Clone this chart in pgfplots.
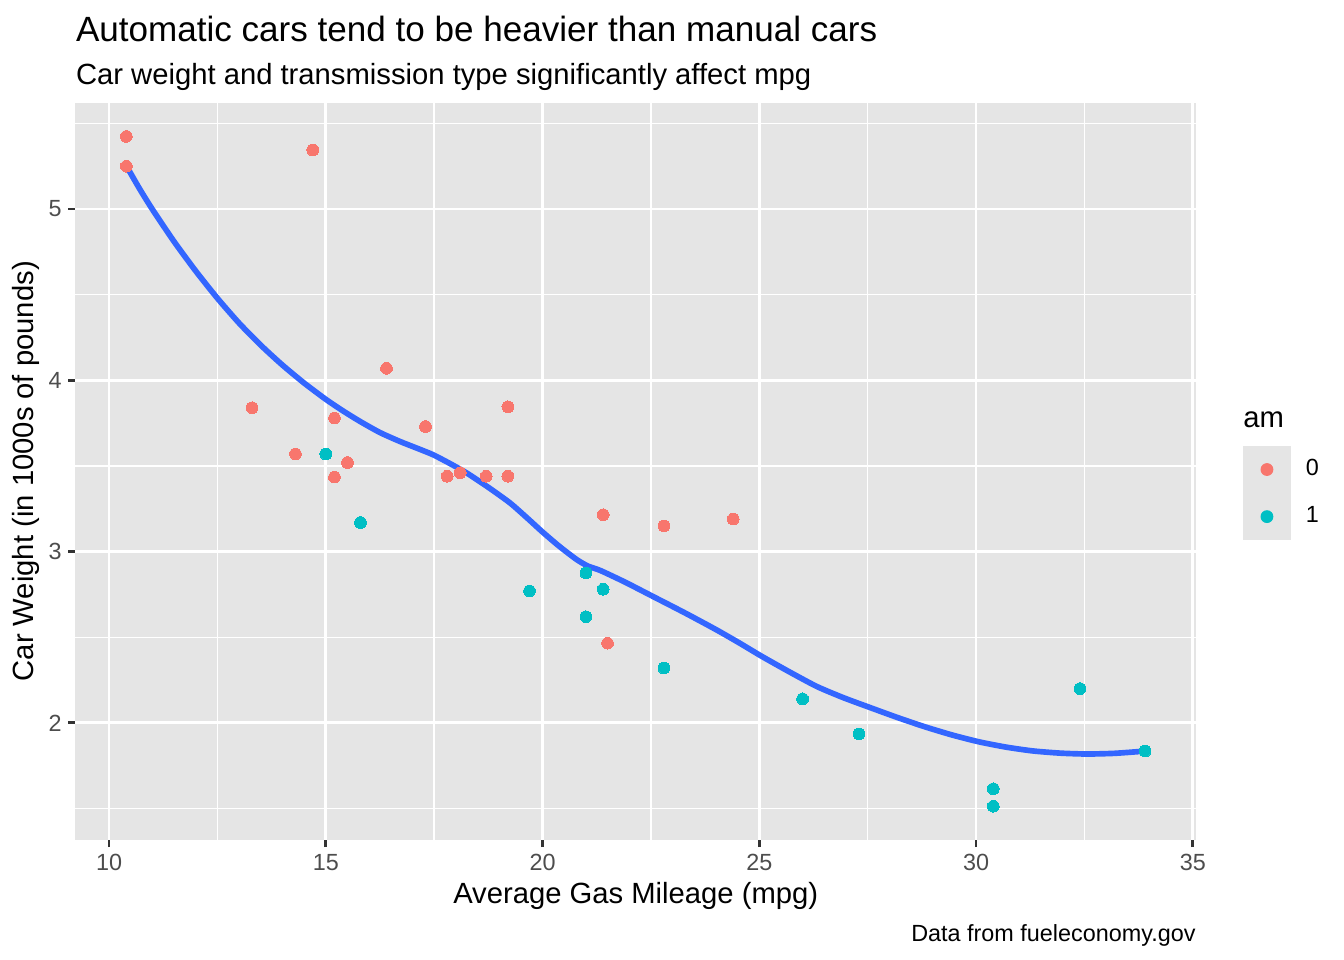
\documentclass[border=0pt]{standalone}
\usepackage{fontspec}
\setmainfont{Liberation Sans}
\usepackage{pgfplots}
\pgfplotsset{compat=1.18}
\usepackage{pgfplotstable}
\definecolor{redpt}{HTML}{F8766D}
\definecolor{tealpt}{HTML}{00BFC4}
\definecolor{smoothc}{HTML}{3366FF}
\definecolor{panelbg}{HTML}{E5E5E5}
\definecolor{grayxxx}{HTML}{4D4D4D}
\definecolor{grayxx}{HTML}{333333}

\pgfplotstableread{
mpg wt
21.4 3.215
18.7 3.440
18.1 3.460
14.3 3.570
24.4 3.190
22.8 3.150
19.2 3.440
17.8 3.440
16.4 4.070
17.3 3.730
15.2 3.780
10.4 5.250
10.4 5.424
14.7 5.345
21.5 2.465
15.5 3.520
15.2 3.435
13.3 3.840
19.2 3.845
}\autodata

\pgfplotstableread{
mpg wt
21.0 2.620
21.0 2.875
22.8 2.320
32.4 2.200
30.4 1.615
33.9 1.835
27.3 1.935
26.0 2.140
30.4 1.513
15.8 3.170
19.7 2.770
15.0 3.570
21.4 2.780
}\manualdata

\pgfplotstableread{
mpg wt
10.40 5.252
10.70 5.120
11.00 4.998
11.50 4.810
12.00 4.638
12.50 4.479
13.00 4.334
13.50 4.205
14.00 4.089
14.50 3.984
15.00 3.889
15.40 3.821
15.79 3.760
16.25 3.695
16.71 3.643
17.10 3.604
17.47 3.566
17.85 3.516
18.25 3.459
18.75 3.375
19.25 3.284
19.65 3.195
20.01 3.112
20.40 3.028
20.79 2.953
21.05 2.915
21.33 2.890
21.90 2.822
22.57 2.735
23.30 2.640
24.02 2.542
24.55 2.465
25.06 2.388
25.70 2.297
26.33 2.212
26.95 2.146
27.58 2.087
28.20 2.030
28.82 1.977
29.45 1.929
30.07 1.889
30.70 1.858
31.31 1.836
31.95 1.823
32.56 1.818
33.20 1.822
33.90 1.835
}\loessdata

\begin{document}
\begin{tikzpicture}
\path[use as bounding box] (0bp,0bp) rectangle (504bp,360bp);
\begin{axis}[
  at={(28.3bp,45.1bp)}, anchor=south west,
  scale only axis, width=420.2bp, height=276.3bp,
  xmin=9.225, xmax=35.075, ymin=1.3175, ymax=5.6196,
  axis background/.style={fill=panelbg},
  axis line style={draw=none},
  tick pos=left, tick align=outside,
  xtick={10,15,20,25,30,35}, ytick={2,3,4,5},
  minor xtick={12.5,17.5,22.5,27.5,32.5},
  minor ytick={1.5,2.5,3.5,4.5,5.5},
  grid=both,
  major grid style={white, line width=1.07pt},
  minor grid style={white, line width=0.53pt},
  major tick length=2.75pt, minor tick length=0pt,
  major tick style={grayxx, line width=1.07pt},
  tick label style={font=\fontsize{8.8}{10}\selectfont, text=grayxxx, inner sep=0pt},
  xticklabel style={anchor=north, yshift=-2.5bp},
  yticklabel style={anchor=east, xshift=-2.25bp},
  /pgf/number format/assume math mode=true,
  legend style={at={(1.0419,0.5344)}, anchor=north west, draw=none, fill=none,
    inner sep=0pt, outer sep=0pt, row sep=0pt, column sep=5.6bp,
    nodes={inner sep=0pt, outer sep=0pt},
    font=\fontsize{8.8}{10}\selectfont},
  legend cell align=left,
]
\addplot[redpt, only marks, mark=*, mark size=2.2bp, mark options={draw=redpt, fill=redpt, line width=0pt},
  legend image code/.code={\fill[panelbg] (0bp,-8.63bp) rectangle (17.6bp,8.63bp);
    \fill[redpt] (8.8bp,0bp) circle (2.2bp);}]
  table[x=mpg, y=wt] {\autodata};
\addlegendentry{0}
\addplot[tealpt, only marks, mark=*, mark size=2.2bp, mark options={draw=tealpt, fill=tealpt, line width=0pt},
  legend image code/.code={\fill[panelbg] (0bp,-8.63bp) rectangle (17.6bp,8.63bp);
    \fill[tealpt] (8.8bp,0bp) circle (2.2bp);}]
  table[x=mpg, y=wt] {\manualdata};
\addlegendentry{1}
\addplot[forget plot, no marks, smoothc, line width=2.13pt, line join=round, smooth, tension=0.4]
  table[x=mpg, y=wt] {\loessdata};
\end{axis}
\node[anchor=base west, inner sep=0pt, font=\fontsize{13.2}{15}\selectfont] at (28.3bp,344.6bp)
  {Automatic cars tend to be heavier than manual cars};
\node[anchor=base west, inner sep=0pt, font=\fontsize{11}{13}\selectfont] at (28.3bp,328.3bp)
  {Car weight and transmission type significantly affect mpg};
\node[anchor=base, inner sep=0pt, font=\fontsize{11}{13}\selectfont] at (238.4bp,21.2bp)
  {Average Gas Mileage (mpg)};
\node[anchor=base, rotate=90, inner sep=0pt, font=\fontsize{11}{13}\selectfont] at (12.6bp,183.3bp)
  {Car Weight (in 1000s of pounds)};
\node[anchor=base east, inner sep=0pt, font=\fontsize{8.8}{10}\selectfont] at (448.5bp,6.9bp)
  {Data from fueleconomy.gov};
\node[anchor=base west, inner sep=0pt, font=\fontsize{11}{13}\selectfont] at (466.1bp,199.5bp)
  {am};
\end{tikzpicture}
\end{document}
